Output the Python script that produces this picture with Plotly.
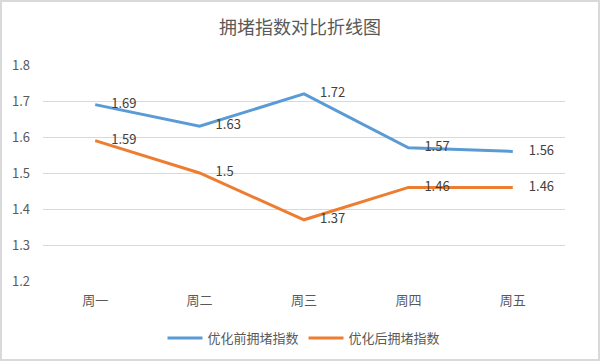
import plotly.graph_objects as go

categories = ["周一", "周二", "周三", "周四", "周五"]
before_values = [1.69, 1.63, 1.72, 1.57, 1.56]
after_values = [1.59, 1.5, 1.37, 1.46, 1.46]
before_name = "优化前拥堵指数"
after_name = "优化后拥堵指数"
title_text = "拥堵指数对比折线图"

FONT = "Noto Sans CJK SC, Noto Sans, sans-serif"

fig = go.Figure()
for vals, name, color in [(before_values, before_name, "#5B9BD5"), (after_values, after_name, "#ED7D31")]:
    fig.add_trace(go.Scatter(
        x=categories, y=vals, name=name, mode="lines+markers+text",
        line=dict(color=color, width=3),
        marker=dict(size=24, color="rgba(0,0,0,0)"),
        text=[f"{v:g}" for v in vals], textposition="middle right",
        textfont=dict(size=13, color="#404040", family=FONT), cliponaxis=False,
    ))

L, R, T, B = 43, 35, 65, 80
pw, ph = 600 - L - R, 361 - T - B
fig.update_layout(
    width=600, height=361,
    margin=dict(l=L, r=R, t=T, b=B, autoexpand=False),
    paper_bgcolor="white", plot_bgcolor="white",
    font=dict(family=FONT, color="#595959", size=13),
    title=dict(text=title_text, x=0.5, xanchor="center", y=1 - 28 / 361, yanchor="middle",
               font=dict(size=18, color="#595959", family=FONT)),
    showlegend=True,
    legend=dict(orientation="h", x=0.5, xanchor="center", y=-(338 - 281) / ph, yanchor="middle",
                font=dict(size=13, color="#595959", family=FONT), itemwidth=35),
    xaxis=dict(showgrid=False, showline=False, ticks="", tickfont=dict(size=13, color="#595959"),
               range=[-0.5, 4.5], ticklabelstandoff=10),
    yaxis=dict(range=[1.2, 1.8], dtick=0.1, tickformat=".1f", showgrid=True, gridcolor="#D9D9D9",
               gridwidth=1, zeroline=False, showline=False, ticks="", ticklabelstandoff=12,
               tickfont=dict(size=13, color="#595959")),
    shapes=[dict(type="rect", xref="paper", yref="paper",
                 x0=-(L - 1) / pw, x1=1 + (R - 1) / pw, y0=-(B - 1) / ph, y1=1 + (T - 1) / ph,
                 line=dict(color="#D9D9D9", width=2), fillcolor="rgba(0,0,0,0)", layer="below")],
)
fig.write_html("out.html", config={"displayModeBar": False},
               post_script="document.body.style.margin='0';document.body.style.padding='0';"
                           "document.body.style.overflow='hidden';")
